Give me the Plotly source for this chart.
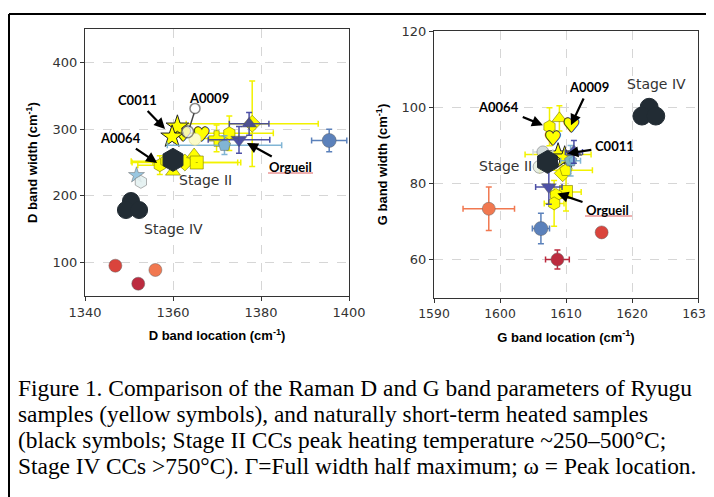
import plotly.graph_objects as go

# ---------------- Left panel: D band (location, width) ----------------
D_ryu_x = [1357.0, 1358.5, 1360.0, 1362.7, 1364.8, 1365.4, 1369.9, 1372.8, 1378.0]
D_ryu_y = [246.0, 252.0, 236.0, 250.0, 262.0, 250.0, 286.0, 293.8, 308.0]
D_ryu_ex = [5.0, 8.0, None, 12.0, None, 10.0, 5.0, 10.0, 15.0]
D_ryu_ey = [14.0, None, None, None, None, None, 20.0, 26.0, 64.0]
D_ryu_sym = ['hexagon', 'hexagon', 'triangle-up', 'diamond', 'triangle-up',
             'square-dot', 'cross', 'hexagon', 'diamond-dot']
D_pale_x = [1365.0]
D_pale_y = [285.0]
D_star_x = [1361.0, 1359.8]
D_star_y = [303.6, 288.6]
D_heart_x = [1362.3, 1366.5]
D_heart_y = [288.6, 289.7]
D_white_x = [1363.3, 1365.0]
D_white_y = [296.0, 331.0]

D_ref_x = [1351.7, 1352.7, 1371.7, 1375.0, 1377.3, 1395.5, 1346.9, 1352.1, 1356.0]
D_ref_y = [231.0, 221.0, 276.0, 284.0, 308.0, 283.0, 95.4, 68.4, 89.0]
D_ref_ex = [None, None, 13.0, 7.0, 4.5, 4.0, None, None, None]
D_ref_ey = [None, None, 14.0, 20.0, 17.0, 17.0, None, None, None]

D_st2_x = [1360.0]
D_st2_y = [254.0]
D_st4_x = [1350.45, 1349.3, 1352.3]
D_st4_y = [192.3, 178.8, 178.8]

# ---------------- Right panel: G band (location, width) ----------------
G_ryu_x = [1607.5, 1609.0, 1609.5, 1610.0, 1610.0, 1608.5, 1608.2]
G_ryu_y = [94.9, 97.1, 82.7, 83.5, 77.8, 77.0, 74.8]
G_ryu_ex = [None, None, None, 4.0, 2.3, None, 1.5]
G_ryu_ey = [5.0, 3.3, None, None, 5.0, None, 6.0]
G_ryu_sym = ['hexagon', 'triangle-up', 'diamond', 'pentagon', 'square', 'hexagon', 'hexagon']
G_star_x = [1608.8, 1609.8]
G_star_y = [87.6, 86.8]
G_star_ex = [5.0, None]
G_heart_x = [1610.8, 1608.0]
G_heart_y = [94.7, 91.4]

G_ref_x = [1606.5, 1606.0, 1610.7, 1611.2, 1607.4, 1606.2, 1598.3, 1608.7, 1615.4]
G_ref_y = [88.3, 84.4, 86.0, 88.3, 79.1, 68.2, 73.4, 60.1, 67.2]
G_ref_ex = [1.5, None, 1.5, 1.3, 2.0, 1.3, 3.9, 1.8, None]
G_ref_ey = [None, None, 4.0, 3.0, 4.5, 4.0, 5.7, 2.5, None]

G_st2_x = [1607.2]
G_st2_y = [85.7]
G_st4_x = [1622.6, 1621.5, 1623.6]
G_st4_y = [100.0, 97.7, 97.7]

# shared styles for the reference samples
REF_SYM = ['star', 'hexagon', 'pentagon', 'triangle-down', 'triangle-up', 'circle',
           'circle', 'circle', 'circle']
REF_COL = ['#8ec1de', '#e4f1f1', '#74add1', '#3b3f9e', '#3b3f9e', '#4a74b4',
           '#d73027', '#b5152b', '#f06a3e']
REF_SIZE = [12, 13, 13, 14, 13, 14, 13, 13, 13]
G_REF_SYM = ['circle', 'circle', 'pentagon', 'triangle-up', 'triangle-down', 'circle',
             'circle', 'circle', 'circle']
G_REF_COL = ['#cfd8d8', '#e6eedf', '#74add1', '#3b3f9e', '#3b3f9e', '#4a74b4',
             '#f06a3e', '#b5152b', '#d73027']

YEL = '#ffff00'
YEL_ERR = '#f2f200'
YEL_EDGE = 'rgba(110,110,0,0.7)'
DARK = '#222c34'

fig = go.Figure()


def err(vals, color):
    if all(v is None for v in vals):
        return dict(visible=False)
    return dict(type='data', array=vals, color=color, thickness=1.5, width=3, visible=True)


def add_panel(xa, ya, ryu_x, ryu_y, ryu_ex, ryu_ey, ryu_sym,
              ref_x, ref_y, ref_ex, ref_ey, ref_sym, ref_col,
              st2_x, st2_y, st4_x, st4_y, st4_size, heart_x, heart_y, star_x, star_y, star_ex):
    fig.add_trace(go.Scatter(
        x=ryu_x, y=ryu_y, mode='markers', xaxis=xa, yaxis=ya,
        error_x=err(ryu_ex, YEL_ERR), error_y=err(ryu_ey, YEL_ERR),
        marker=dict(symbol=ryu_sym, size=13, color=YEL, line=dict(color=YEL_EDGE, width=0.8)),
        showlegend=False, hoverinfo='skip'))
    fig.add_trace(go.Scatter(
        x=heart_x, y=heart_y, mode='text', text=['\u2665'] * len(heart_x), xaxis=xa, yaxis=ya,
        textposition='middle center',
        textfont=dict(family='DejaVu Sans', size=19, color=YEL,
                      shadow='-1px 0 0 #222, 1px 0 0 #222, 0 -1px 0 #222, 0 1px 0 #222'),
        showlegend=False, hoverinfo='skip'))
    fig.add_trace(go.Scatter(
        x=star_x, y=star_y, mode='markers', xaxis=xa, yaxis=ya,
        error_x=err(star_ex, YEL_ERR),
        marker=dict(symbol='star', size=17, color=YEL, line=dict(color='#222', width=1)),
        showlegend=False, hoverinfo='skip'))
    for i in range(len(ref_x)):
        fig.add_trace(go.Scatter(
            x=[ref_x[i]], y=[ref_y[i]], mode='markers', xaxis=xa, yaxis=ya,
            error_x=err([ref_ex[i]], ref_col[i]), error_y=err([ref_ey[i]], ref_col[i]),
            opacity=0.9,
            marker=dict(symbol=ref_sym[i], size=REF_SIZE[i], color=ref_col[i],
                        line=dict(color='rgba(80,80,80,0.6)', width=0.8)),
            showlegend=False, hoverinfo='skip'))
    fig.add_trace(go.Scatter(
        x=st2_x, y=st2_y, mode='markers', xaxis=xa, yaxis=ya,
        marker=dict(symbol='hexagon', size=23, color=DARK, line=dict(color=DARK, width=1)),
        showlegend=False, hoverinfo='skip'))
    fig.add_trace(go.Scatter(
        x=st4_x, y=st4_y, mode='markers', xaxis=xa, yaxis=ya,
        marker=dict(symbol='circle', size=st4_size, color=DARK, line=dict(color=DARK, width=1)),
        showlegend=False, hoverinfo='skip'))


add_panel('x', 'y', D_ryu_x, D_ryu_y, D_ryu_ex, D_ryu_ey, D_ryu_sym,
          D_ref_x, D_ref_y, D_ref_ex, D_ref_ey, REF_SYM, REF_COL,
          D_st2_x, D_st2_y, D_st4_x, D_st4_y, 17, D_heart_x, D_heart_y, D_star_x, D_star_y,
          [None, None])
add_panel('x2', 'y2', G_ryu_x, G_ryu_y, G_ryu_ex, G_ryu_ey, G_ryu_sym,
          G_ref_x, G_ref_y, G_ref_ex, G_ref_ey, G_REF_SYM, G_REF_COL,
          G_st2_x, G_st2_y, G_st4_x, G_st4_y, 18, G_heart_x, G_heart_y, G_star_x, G_star_y,
          G_star_ex)

fig.add_trace(go.Scatter(
    x=D_pale_x, y=D_pale_y, mode='markers', xaxis='x', yaxis='y',
    marker=dict(symbol='circle', size=12, color='#fbfbc8', line=dict(color='#dddd99', width=0.8)),
    showlegend=False, hoverinfo='skip'))
fig.add_trace(go.Scatter(
    x=D_white_x, y=D_white_y, mode='markers', xaxis='x', yaxis='y',
    marker=dict(symbol='circle', size=[12, 10], color=['#f4f4f4', 'white'],
                line=dict(color='#555', width=1.5)),
    showlegend=False, hoverinfo='skip'))

# page body has an 8px margin: reference pixel (X, Y) -> figure pixel (X-8, Y-8)
OFF = 8
W, H = 714 - OFF, 497 - OFF


def px(xp):
    return (xp - OFF) / W


def py(yp):
    return 1 - (yp - OFF) / H


axis_common = dict(showline=True, mirror=True, linecolor='#333', linewidth=1.2,
                   ticks='outside', ticklen=4, tickwidth=1, tickcolor='#333',
                   showgrid=True, gridcolor='#d6d6d6', griddash='dash', gridwidth=1,
                   zeroline=False, automargin=False, ticklabeloverflow='allow')
tick_font = dict(family='DejaVu Sans', size=13, color='#333')
tick_font_small = dict(family='DejaVu Sans', size=12.4, color='#333')
title_font = dict(family='Liberation Sans', size=13, color='black')

fig.update_layout(
    template='none',
    width=W, height=H, margin=dict(l=0, r=0, t=0, b=0, autoexpand=False),
    paper_bgcolor='white', plot_bgcolor='white', showlegend=False,
    xaxis=dict(domain=[px(85), px(349)], range=[1340, 1400], tickvals=[1340, 1360, 1380, 1400],
               tickfont=tick_font,
               title=dict(text='<b>D band location (cm<sup>-1</sup>)</b>', font=title_font, standoff=12),
               anchor='y', **axis_common),
    yaxis=dict(domain=[py(296), py(29)], range=[50, 450], tickvals=[100, 200, 300, 400],
               tickfont=tick_font,
               title=dict(text='<b>D band width (cm<sup>-1</sup>)</b>', font=title_font, standoff=11),
               anchor='x', **axis_common),
    xaxis2=dict(domain=[px(434), px(698)], range=[1590, 1630], tickvals=[1590, 1600, 1610, 1620, 1630],
                tickfont=tick_font_small,
                title=dict(text='<b>G band location (cm<sup>-1</sup>)</b>', font=title_font, standoff=12),
                anchor='y2', **axis_common),
    yaxis2=dict(domain=[py(298), py(31)], range=[50, 120], tickvals=[60, 80, 100, 120],
                tickfont=tick_font,
                title=dict(text='<b>G band width (cm<sup>-1</sup>)</b>', font=title_font, standoff=10),
                anchor='x2', **axis_common),
)

lab_font = dict(family='Lato', size=13, color='black')
stage_font = dict(family='DejaVu Sans', size=14, color='#333')
annos = []
for xr, yr, x, y, ax, ay, t in [
    ('x', 'y', 1358.2, 300.2, -28, -29, '<b>C0011</b>'),
    ('x', 'y', 1356.4, 249.3, -37, -25, '<b>A0064</b>'),
    ('x', 'y', 1376.8, 279.2, 44, 24, '<b>Orgueil</b>'),
    ('x2', 'y2', 1606.5, 95.3, -44, -18, '<b>A0064</b>'),
    ('x2', 'y2', 1610.75, 95.3, 18, -38, '<b>A0009</b>'),
    ('x2', 'y2', 1610.2, 87.9, 47, -7, '<b>C0011</b>'),
    ('x2', 'y2', 1608.7, 77.4, 50, 17, '<b>Orgueil</b>'),
]:
    annos.append(dict(xref=xr, yref=yr, x=x, y=y, ax=ax, ay=ay, text=t, font=lab_font,
                      showarrow=True, arrowhead=2, arrowsize=1, arrowwidth=2.2,
                      arrowcolor='black', standoff=0, startstandoff=2))
for xr, yr, x, y, t, f in [
    ('x', 'y', 1368.2, 346.6, '<b>A0009</b>', lab_font),
    ('x', 'y', 1367.3, 223.8, 'Stage II', stage_font),
    ('x', 'y', 1360.0, 150.4, 'Stage IV', stage_font),
    ('x2', 'y2', 1600.8, 84.6, 'Stage II', stage_font),
    ('x2', 'y2', 1623.75, 106.0, 'Stage IV', stage_font),
]:
    annos.append(dict(xref=xr, yref=yr, x=x, y=y, text=t, font=f, showarrow=False,
                      xanchor='center', yanchor='middle'))

caption = [
    'Figure 1. Comparison of the Raman D and G band parameters of Ryugu',
    'samples (yellow symbols), and naturally short-term heated samples',
    '(black symbols; Stage II CCs peak heating temperature ~250\u2013500\u00b0C;',
    'Stage IV CCs &gt;750\u00b0C). \u0393=Full width half maximum; \u03c9 = Peak location.',
]
cap_y = [388, 414, 440, 466]
for t, yy in zip(caption, cap_y):
    annos.append(dict(xref='paper', yref='paper', x=px(16), y=py(yy), text=t, showarrow=False,
                      xanchor='left', yanchor='middle',
                      font=dict(family='Liberation Serif', size=23.4, color='black')))
fig.update_layout(annotations=annos)

shapes = [
    dict(type='line', xref='paper', yref='paper', x0=px(9), x1=1, y0=py(14), y1=py(14),
         line=dict(color='black', width=2)),
    dict(type='line', xref='paper', yref='paper', x0=px(9), x1=px(9), y0=py(14), y1=0,
         line=dict(color='black', width=2)),
    dict(type='line', xref='paper', yref='paper', x0=px(268), x1=px(313), y0=py(173), y1=py(173),
         line=dict(color='#e06060', width=1.2)),
    dict(type='line', xref='paper', yref='paper', x0=px(585), x1=px(632), y0=py(216), y1=py(216),
         line=dict(color='#e06060', width=1.2)),
    dict(type='line', xref='x', yref='y', x0=D_white_x[1] - 0.2, y0=D_white_y[1] - 7,
         x1=D_white_x[0] + 0.5, y1=D_white_y[0] + 7, line=dict(color='#444', width=1.5)),
]
fig.update_layout(shapes=shapes)

fig.write_html('out.html')
